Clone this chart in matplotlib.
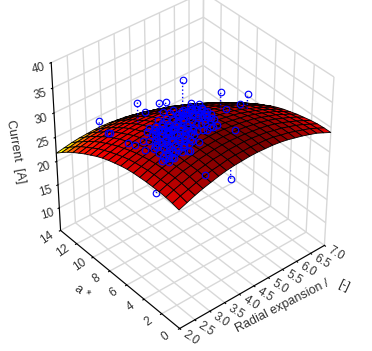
import numpy as np
import matplotlib
matplotlib.use('Agg')
import matplotlib.pyplot as plt
from matplotlib.colors import LinearSegmentedColormap, Normalize

plt.rcParams['font.family'] = ['Liberation Sans', 'DejaVu Sans']

x_ticks = [2.0, 2.5, 3.0, 3.5, 4.0, 4.5, 5.0, 5.5, 6.0, 6.5, 7.0]
a_ticks = [0, 2, 4, 6, 8, 10, 12, 14]
z_ticks = [10, 15, 20, 25, 30, 35, 40]
x_grid = [2.0,2.25,2.5,2.75,3.0,3.25,3.5,3.75,4.0,4.25,4.5,4.75,5.0,5.25,5.5,5.75,6.0,6.25,6.5,6.75,7.0]
a_grid = [0.0,0.7,1.4,2.1,2.8,3.5,4.2,4.9,5.6,6.3,7.0,7.7,8.4,9.1,9.8,10.5,11.2,11.9,12.6,13.3,14.0]
# fitted surface, one row per a_grid value, one column per x_grid value
surface = [
 [29.7,30.3,30.9,31.4,31.8,32.2,32.5,32.7,32.8,32.9,32.9,32.8,32.7,32.5,32.2,31.8,31.4,30.9,30.4,29.7,29.0],
 [30.0,30.6,31.1,31.6,32.0,32.4,32.6,32.9,33.0,33.0,33.0,32.9,32.8,32.6,32.2,31.9,31.4,30.9,30.4,29.7,29.0],
 [30.2,30.8,31.3,31.8,32.2,32.5,32.8,32.9,33.1,33.1,33.1,33.0,32.8,32.6,32.2,31.9,31.4,30.9,30.3,29.6,28.9],
 [30.3,30.9,31.4,31.9,32.2,32.6,32.8,33.0,33.1,33.1,33.0,32.9,32.7,32.5,32.2,31.8,31.3,30.7,30.1,29.4,28.7],
 [30.3,30.9,31.4,31.9,32.2,32.5,32.8,32.9,33.0,33.0,32.9,32.8,32.6,32.3,32.0,31.6,31.1,30.5,29.9,29.2,28.4],
 [30.3,30.9,31.4,31.8,32.2,32.4,32.6,32.8,32.9,32.9,32.8,32.6,32.4,32.1,31.8,31.3,30.8,30.3,29.6,28.9,28.1],
 [30.2,30.8,31.3,31.7,32.0,32.3,32.5,32.6,32.6,32.6,32.5,32.4,32.1,31.8,31.5,31.0,30.5,29.9,29.3,28.5,27.7],
 [30.1,30.6,31.1,31.5,31.8,32.0,32.2,32.3,32.4,32.3,32.2,32.1,31.8,31.5,31.1,30.6,30.1,29.5,28.8,28.1,27.3],
 [29.9,30.4,30.8,31.2,31.5,31.8,31.9,32.0,32.0,32.0,31.9,31.7,31.4,31.1,30.7,30.2,29.6,29.0,28.3,27.6,26.8],
 [29.6,30.1,30.5,30.9,31.2,31.4,31.5,31.6,31.6,31.6,31.4,31.2,30.9,30.6,30.2,29.7,29.1,28.5,27.8,27.0,26.2],
 [29.2,29.7,30.1,30.5,30.7,30.9,31.1,31.1,31.1,31.1,30.9,30.7,30.4,30.0,29.6,29.1,28.5,27.9,27.1,26.4,25.5],
 [28.8,29.2,29.6,30.0,30.2,30.4,30.5,30.6,30.6,30.5,30.3,30.1,29.8,29.4,28.9,28.4,27.8,27.2,26.4,25.6,24.8],
 [28.3,28.7,29.1,29.4,29.7,29.8,29.9,30.0,29.9,29.8,29.7,29.4,29.1,28.7,28.2,27.7,27.1,26.4,25.7,24.9,24.0],
 [27.7,28.1,28.5,28.8,29.0,29.2,29.3,29.3,29.3,29.1,28.9,28.7,28.3,27.9,27.4,26.9,26.3,25.6,24.8,24.0,23.1],
 [27.0,27.5,27.8,28.1,28.3,28.5,28.6,28.6,28.5,28.4,28.1,27.9,27.5,27.1,26.6,26.0,25.4,24.7,23.9,23.1,22.1],
 [26.3,26.7,27.1,27.4,27.6,27.7,27.8,27.7,27.7,27.5,27.3,27.0,26.6,26.2,25.7,25.1,24.4,23.7,22.9,22.1,21.1],
 [25.5,25.9,26.3,26.5,26.7,26.8,26.9,26.9,26.8,26.6,26.3,26.0,25.7,25.2,24.7,24.1,23.4,22.7,21.9,21.0,20.0],
 [24.7,25.1,25.4,25.6,25.8,25.9,25.9,25.9,25.8,25.6,25.3,25.0,24.6,24.2,23.6,23.0,22.3,21.6,20.7,19.9,18.9],
 [23.8,24.1,24.4,24.7,24.8,24.9,24.9,24.9,24.7,24.5,24.3,23.9,23.5,23.0,22.5,21.9,21.2,20.4,19.6,18.6,17.7],
 [22.8,23.1,23.4,23.6,23.8,23.8,23.8,23.8,23.6,23.4,23.1,22.8,22.3,21.8,21.3,20.6,19.9,19.1,18.3,17.4,16.4],
 [21.7,22.0,22.3,22.5,22.6,22.7,22.7,22.6,22.4,22.2,21.9,21.5,21.1,20.6,20.0,19.3,18.6,17.8,17.0,16.0,15.0],
]

# scattered measurements on and above the surface
pt_x = [3.65,3.95,4.30,4.40,4.85,4.75,4.20,5.00,4.75,5.10,5.40,6.00,5.80,5.35,4.70,4.70,3.05,3.30,3.35,2.80,2.65,2.70,2.95,3.45,2.70,2.85,4.55,4.80,4.60,4.40,2.90,4.30,3.00,2.90,2.90,2.70,
 3.60,3.40,3.80,3.60,3.95,3.75,4.10,3.90,4.10,3.90,4.10,3.95,3.20,3.15,3.35,3.30,3.50,3.40,3.65,3.55,3.70,3.60,3.75,3.65,2.95,2.90,3.10,3.00,3.20,3.10,3.30,3.25,3.40,3.30,3.50,3.45,2.80,2.80,2.95,2.90,3.05,3.05,3.15,3.15,2.75,2.75,2.90,3.25,3.00,4.35,4.30,4.40,4.35,4.25,4.00,3.70,3.75,3.80,3.45,3.85,
 4.70,4.60,4.95,4.75,5.05,4.60,4.45,4.20,4.25,4.40,4.95,4.90,4.70,4.15,4.00,4.15,4.90,4.40,4.55,3.30,3.80,3.70,
 3.25,3.45,3.60,3.50,3.70,3.85,3.85,3.70,3.45,3.30,3.15,3.05,3.25,3.35,3.50,3.55,3.70,3.85,3.80,3.95,3.45,3.15,3.00,3.20,3.40,3.60,3.85,4.05,4.00,4.20,3.25,3.55,4.25,4.05,
 4.50,4.65,4.80,4.70,4.85,4.50,4.50,4.80,4.95,4.55,4.75,4.35,4.85,4.65,4.50,4.35]
pt_a = [10.2,10.4,10.0,9.6,9.2,8.8,9.2,8.8,8.0,8.2,6.8,5.8,6.0,6.0,3.0,5.6,0.8,3.2,4.0,3.8,4.0,7.2,7.2,8.2,6.0,5.6,5.2,6.4,7.2,8.8,3.8,4.4,12.4,11.0,10.8,8.0,
 8.0,7.2,8.0,7.0,8.0,7.0,7.8,6.8,7.2,6.2,6.6,5.6,6.6,6.0,6.4,5.8,6.2,5.6,6.2,5.4,5.6,4.8,5.2,4.4,5.8,5.4,5.6,5.0,5.4,4.8,5.2,4.6,4.6,4.0,4.4,3.8,4.8,4.4,4.6,4.2,4.2,4.0,4.0,3.6,4.0,3.6,3.6,7.2,6.6,8.2,8.8,7.8,7.2,6.2,5.2,7.0,6.4,6.0,6.8,8.6,
 8.4,7.6,8.2,7.2,7.8,6.2,6.2,5.6,5.2,5.2,6.8,6.2,5.2,4.6,4.8,4.2,8.4,4.4,4.4,3.4,4.4,3.6,
 6.3,6.0,6.6,7.0,6.6,6.6,7.4,7.6,7.6,7.0,6.4,5.9,5.7,5.3,5.0,5.8,5.0,5.5,4.8,5.0,4.9,5.2,4.5,4.3,4.2,4.0,6.0,6.0,6.8,7.0,7.8,7.4,7.6,8.4,
 7.0,6.8,7.0,7.8,7.6,7.6,8.2,8.0,7.4,6.5,6.3,6.7,6.7,5.8,5.6,8.0]
pt_z = [32.0,29.0,30.3,30.7,34.3,29.0,29.7,29.7,30.7,30.0,33.3,32.3,30.7,31.0,32.7,31.7,32.0,32.7,32.3,32.0,31.7,30.3,30.3,30.0,31.0,31.3,32.0,31.0,30.7,30.0,32.0,32.7,27.3,27.0,27.3,29.7,
 30.3,31.0,30.3,31.0,30.3,31.0,30.3,31.3,31.0,31.7,31.3,32.0,31.3,31.3,31.3,31.7,31.7,32.0,31.7,32.0,32.0,32.3,32.3,32.3,31.3,31.7,31.7,31.7,31.7,32.0,32.0,32.3,32.3,32.3,32.3,32.7,31.7,31.7,32.0,32.0,32.0,32.0,32.3,32.3,31.7,31.7,32.0,30.7,31.0,30.0,29.7,30.3,31.0,31.7,32.3,31.0,31.3,31.7,31.3,30.0,
 29.3,30.3,29.3,30.7,29.7,31.3,31.7,32.0,32.3,32.0,30.7,31.0,32.0,32.3,32.3,32.7,29.3,32.3,32.3,32.3,32.7,32.7,
 31.4,31.7,31.2,30.9,31.2,31.3,30.7,30.6,30.6,30.9,31.2,31.4,31.7,31.9,32.1,31.8,32.1,32.1,32.4,32.3,32.1,31.8,32.0,32.2,32.4,32.5,31.8,31.8,31.3,31.2,30.4,30.7,30.7,30.0,
 31.1,31.1,30.9,30.3,30.4,30.6,30.1,30.1,30.5,31.4,31.3,31.3,31.0,31.7,31.9,30.2]
# points that stand clear of the surface, with the surface height under them
st_x = [3.65,3.95,4.30,4.40,4.85,4.20,5.00,4.75,5.10,5.40,6.00,5.80,5.35,4.40,3.00]
st_a = [10.2,10.4,10.0,9.6,9.2,9.2,8.8,8.0,8.2,6.8,5.8,6.0,6.0,8.8,12.4]
st_top = [32.0,29.0,30.3,30.7,34.3,29.7,29.7,30.7,30.0,33.3,32.3,30.7,31.0,30.0,27.3]
st_base = [28.0,28.0,28.3,28.7,28.3,29.2,28.7,29.7,29.0,29.8,29.3,29.7,30.5,29.5,25.3]
# points under the surface, with the surface height above them
un_x = [2.40,3.95]
un_a = [3.8,1.0]
un_z = [26.3,28.0]
un_top = [31.3,33.0]

col_z = [21.7,22.7,24.0,25.5,28.0,29.7,31.0,32.5,33.2]
col_c = ['#b0f000','#ffff00','#ff9000','#ff2000','#f00000','#e00000','#b00000','#880000','#700000']

fig = plt.figure(figsize=(3.72, 3.51), dpi=100)
ax = fig.add_axes([0.003, 0.04, 1, 1], projection='3d', computed_zorder=False)
ax.set_proj_type('persp', focal_length=1.0)
ax.view_init(elev=38, azim=-130)
ax.set_box_aspect((1, 1, 1.1), zoom=0.96)
ax.set_xlim(2, 7); ax.set_ylim(0, 14); ax.set_zlim(5, 40)

X, Y = np.meshgrid(x_grid, a_grid)
Z = np.array(surface)
lo, hi = col_z[0], col_z[-1]
cm = LinearSegmentedColormap.from_list('c', [((a - lo) / (hi - lo), b) for a, b in zip(col_z, col_c)])

for x, a, z, t in zip(un_x, un_a, un_z, un_top):
    ax.plot([x, x], [a, a], [z, t], ls=':', color='#0000ff', lw=1, zorder=1)
ax.plot(un_x, un_a, un_z, 'o', mfc='none', mec='#0000ff', mew=.85, ms=4.7, zorder=1)
ax.plot_surface(X, Y, Z, rstride=1, cstride=1, facecolors=cm(Normalize(lo, hi)(Z)),
                edgecolor='k', linewidth=0.6, shade=False, zorder=2)
for x, a, t, b in zip(st_x, st_a, st_top, st_base):
    ax.plot([x, x], [a, a], [b, t], ls=':', color='#0000ff', lw=1, zorder=3)
ax.plot(pt_x, pt_a, pt_z, 'o', mfc='none', mec='#0000ff', mew=.85, ms=4.7, zorder=3)

ax.set_xticks(x_ticks, [''] * len(x_ticks))
ax.set_yticks(a_ticks, [''] * len(a_ticks))
ax.set_zticks(z_ticks, [''] * len(z_ticks))
for a in (ax.xaxis, ax.yaxis, ax.zaxis):
    a.set_pane_color((1, 1, 1, 0))
    a.pane.set_edgecolor('#d8d8d8')
    a._axinfo['grid']['color'] = '#d8d8d8'
    a._axinfo['grid']['linewidth'] = 1
    a._axinfo['tick']['inward_factor'] = 0.1
    a._axinfo['tick']['outward_factor'] = 0.0
    a.line.set_color('k')
    for tick in a.get_major_ticks():
        tick.label1.set_visible(False)
        tick.label2.set_visible(False)

tk = dict(ha='center', va='center', fontsize=8.5, color='#303030', rotation_mode='anchor', clip_on=False)
for v in x_ticks:
    ax.text(v, -1.25, 5, f'{v:.1f}', zdir=(0, -1, 0.3), **tk)
for v in a_ticks:
    ax.text(1.55, v, 5, str(v), zdir=(1, 0, 1), **tk)
for v in z_ticks:
    ax.text(1.6, 14, v, str(v), zdir=(1, 0, -1.4), **tk)

def label(px, py, s, r):
    fig.text(px / 372, 1 - py / 351, s, rotation=r, ha='center', va='center', fontsize=9,
             color='#303030', rotation_mode='anchor')
label(282, 306, 'Radial expansion /', 27)
label(344, 286, '[-]', -25)
label(82, 292, 'a *', -35)
label(15, 152, 'Current  [A]', -80)

fig.savefig('out.png', dpi=100)
